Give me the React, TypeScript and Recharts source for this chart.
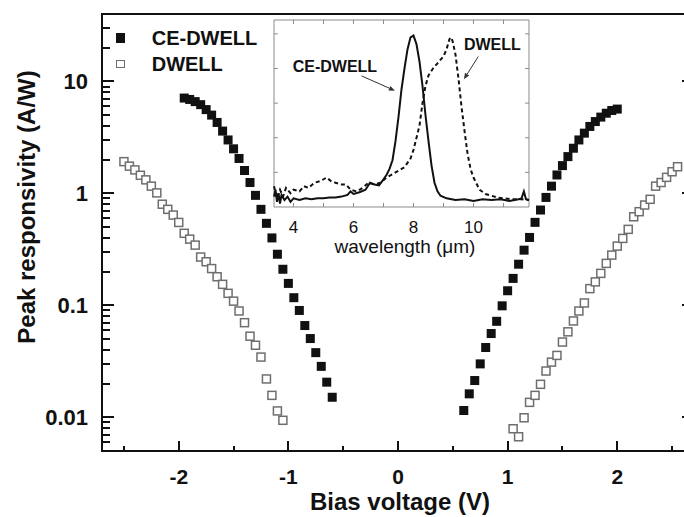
import React from 'react';
import { ComposedChart, Scatter, Line, XAxis, YAxis, ReferenceLine, ReferenceDot } from 'recharts';

const FONT = '"Liberation Sans", Arial, sans-serif';
const INK = '#111';
const OPEN = '#6e6e6e';
const FRAME = '#8a8a8a';

// main plot: [bias (V), peak responsivity (A/W)]
const ceDwellNeg = [
  [-1.95, 7.1], [-1.9, 6.9], [-1.85, 6.6], [-1.8, 6.2], [-1.75, 5.6], [-1.7, 5.0],
  [-1.65, 4.3], [-1.6, 3.6], [-1.55, 3.0], [-1.5, 2.5], [-1.45, 2.05], [-1.4, 1.6],
  [-1.35, 1.25], [-1.3, 0.96], [-1.25, 0.72], [-1.2, 0.54], [-1.15, 0.4], [-1.1, 0.286],
  [-1.05, 0.21], [-1.0, 0.157], [-0.95, 0.117], [-0.9, 0.09], [-0.85, 0.066], [-0.8, 0.0505],
  [-0.75, 0.0378], [-0.7, 0.0285], [-0.65, 0.0206], [-0.6, 0.0151],
];
const ceDwellPos = [
  [0.6, 0.0115], [0.65, 0.0162], [0.7, 0.0213], [0.75, 0.03], [0.8, 0.042], [0.85, 0.056],
  [0.9, 0.072], [0.95, 0.099], [1.0, 0.135], [1.05, 0.174], [1.1, 0.233], [1.15, 0.311],
  [1.2, 0.404], [1.25, 0.551], [1.3, 0.71], [1.35, 0.92], [1.4, 1.16], [1.45, 1.46],
  [1.5, 1.77], [1.55, 2.13], [1.6, 2.53], [1.65, 3.0], [1.7, 3.45], [1.75, 3.96],
  [1.8, 4.38], [1.85, 4.8], [1.9, 5.2], [1.95, 5.5], [2.0, 5.66],
];
const dwellNeg = [
  [-2.5, 1.92], [-2.45, 1.75], [-2.4, 1.62], [-2.35, 1.45], [-2.3, 1.32], [-2.25, 1.16],
  [-2.2, 1.01], [-2.15, 0.8], [-2.1, 0.72], [-2.05, 0.64], [-2.0, 0.55], [-1.95, 0.44],
  [-1.9, 0.39], [-1.85, 0.345], [-1.8, 0.27], [-1.75, 0.245], [-1.7, 0.213], [-1.65, 0.18],
  [-1.6, 0.154], [-1.55, 0.128], [-1.5, 0.109], [-1.45, 0.089], [-1.4, 0.07], [-1.35, 0.053],
  [-1.3, 0.044], [-1.25, 0.0345], [-1.2, 0.022], [-1.15, 0.0157], [-1.1, 0.0114], [-1.05, 0.0094],
];
const dwellPos = [
  [1.05, 0.0079], [1.1, 0.0067], [1.15, 0.0099], [1.2, 0.0136], [1.25, 0.0157], [1.3, 0.0197],
  [1.35, 0.0259], [1.4, 0.0311], [1.45, 0.0357], [1.5, 0.047], [1.55, 0.058], [1.6, 0.0725],
  [1.65, 0.089], [1.7, 0.105], [1.75, 0.141], [1.8, 0.162], [1.85, 0.193], [1.9, 0.237],
  [1.95, 0.281], [2.0, 0.338], [2.05, 0.396], [2.1, 0.477], [2.15, 0.618], [2.2, 0.686],
  [2.25, 0.787], [2.3, 0.885], [2.35, 1.16], [2.4, 1.25], [2.45, 1.39], [2.5, 1.56], [2.55, 1.73],
];

const biasDomain = [-2.7, 2.7];
const respDomain = [0.005, 40];
const biasTicks = [-2.5, -2, -1.5, -1, -0.5, 0, 0.5, 1, 1.5, 2, 2.5];
const respMajor = [0.01, 0.1, 1, 10];
const respMinor = [
  0.006, 0.007, 0.008, 0.009,
  0.02, 0.03, 0.04, 0.05, 0.06, 0.07, 0.08, 0.09,
  0.2, 0.3, 0.4, 0.5, 0.6, 0.7, 0.8, 0.9,
  2, 3, 4, 5, 6, 7, 8, 9, 20, 30,
];

// inset: [wavelength (um), normalized response]
const ceSpectrum = [
  [3.35, 0.06], [3.4, 0.1], [3.45, 0.03], [3.5, 0.08], [3.55, 0.02], [3.6, 0.07], [3.7, 0.04],
  [3.8, 0.06], [3.9, 0.03], [4.0, 0.05], [4.2, 0.04], [4.4, 0.05], [4.6, 0.045], [4.8, 0.05],
  [5.0, 0.05], [5.2, 0.055], [5.4, 0.055], [5.6, 0.06], [5.8, 0.07], [5.9, 0.09], [6.0, 0.075],
  [6.2, 0.085], [6.4, 0.1], [6.55, 0.14], [6.7, 0.13], [6.85, 0.125], [7.0, 0.16], [7.1, 0.185],
  [7.2, 0.22], [7.3, 0.27], [7.4, 0.38], [7.5, 0.52], [7.6, 0.68], [7.7, 0.8], [7.8, 0.91],
  [7.9, 0.98], [8.0, 0.99], [8.1, 0.94], [8.2, 0.84], [8.3, 0.7], [8.4, 0.53], [8.5, 0.38],
  [8.6, 0.24], [8.7, 0.14], [8.8, 0.09], [8.9, 0.065], [9.1, 0.05], [9.4, 0.04], [9.7, 0.045],
  [10.0, 0.035], [10.3, 0.045], [10.6, 0.04], [10.9, 0.045], [11.2, 0.035], [11.5, 0.045],
  [11.6, 0.05], [11.68, 0.09], [11.75, 0.045], [11.85, 0.04],
];
const dwellSpectrum = [
  [3.35, 0.12], [3.45, 0.05], [3.55, 0.1], [3.65, 0.06], [3.75, 0.11], [3.9, 0.08], [4.0, 0.1],
  [4.2, 0.09], [4.35, 0.12], [4.5, 0.11], [4.7, 0.14], [4.9, 0.15], [5.1, 0.17], [5.25, 0.15],
  [5.4, 0.14], [5.6, 0.13], [5.75, 0.13], [5.9, 0.1], [6.1, 0.09], [6.3, 0.11], [6.5, 0.14],
  [6.7, 0.13], [6.9, 0.14], [7.1, 0.17], [7.3, 0.19], [7.5, 0.21], [7.7, 0.23], [7.9, 0.28],
  [8.0, 0.33], [8.1, 0.4], [8.2, 0.47], [8.3, 0.6], [8.4, 0.7], [8.5, 0.76], [8.65, 0.8],
  [8.8, 0.83], [9.0, 0.87], [9.1, 0.91], [9.2, 0.97], [9.25, 0.98], [9.3, 0.96], [9.4, 0.88],
  [9.5, 0.74], [9.6, 0.58], [9.7, 0.44], [9.8, 0.31], [9.9, 0.22], [10.0, 0.17], [10.2, 0.1],
  [10.4, 0.075], [10.6, 0.065], [10.8, 0.055], [11.0, 0.05], [11.3, 0.045], [11.6, 0.045],
  [11.85, 0.04],
];
const waveFrame = [3.35, 11.85];
const specFrame = [0, 1.08];
const waveTicks = [4, 5, 6, 7, 8, 9, 10, 11];
const waveLabels = [4, 6, 8, 10];
const specTicks = [0.2, 0.4, 0.6, 0.8, 1.0];

// plot box of the main chart (chart is 700 wide, the window crops the right axis)
const PLOT = { left: 102, right: 694, top: 14, bottom: 451 };

// the inset shares the main plot box; its hidden axes are stretched so the
// frame lands in the upper middle of the plot (30 px per um, 173 px per unit)
const waveAxisDomain = [-2.3833, 17.35];
const specAxisDomain = [-1.4092, 1.11465];
const waveTickLen = 0.13;
const specTickLen = 0.023;

const toBias = (arr: number[][]) => arr.map(([v, r]) => ({ v, r }));
const toSpec = (arr: number[][]) => arr.map(([w, s]) => ({ w, s }));

// same mapping as the chart's bias / log-responsivity axes, used for the frame overlay
const biasPx = (t: number) =>
  PLOT.left + ((t - biasDomain[0]) / (biasDomain[1] - biasDomain[0])) * (PLOT.right - PLOT.left);
const respPx = (r: number) =>
  PLOT.top +
  ((Math.log10(respDomain[1]) - Math.log10(r)) /
    (Math.log10(respDomain[1]) - Math.log10(respDomain[0]))) *
    (PLOT.bottom - PLOT.top);

const FilledSquare = (props: any) => {
  const { cx, cy } = props;
  return <rect x={cx - 4.5} y={cy - 4.5} width={9} height={9} fill={INK} />;
};
const OpenSquare = (props: any) => {
  const { cx, cy } = props;
  return (
    <rect x={cx - 4} y={cy - 4} width={8} height={8} fill="#fff" stroke={OPEN} strokeWidth={1.5} />
  );
};

const BiasLabel = (props: any) => {
  const { x, y, payload } = props;
  if (!Number.isInteger(payload.value)) return <g />;
  return (
    <text x={x} y={y + 23} textAnchor="middle" fontFamily={FONT} fontWeight="bold" fontSize={21} fill={INK}>
      {payload.value}
    </text>
  );
};

const RespLabel = (props: any) => {
  const { x, y, payload } = props;
  return (
    <text x={x} y={y + 8} textAnchor="end" fontFamily={FONT} fontWeight="bold" fontSize={22} fill={INK}>
      {payload.value}
    </text>
  );
};

const Arrow = (props: any) => {
  const { x1, y1, x2, y2 } = props;
  const ang = Math.atan2(y2 - y1, x2 - x1);
  const len = 6;
  const w = 2.5;
  const bx = x2 - len * Math.cos(ang);
  const by = y2 - len * Math.sin(ang);
  const px = -Math.sin(ang) * w;
  const py = Math.cos(ang) * w;
  return (
    <g>
      <line x1={x1} y1={y1} x2={bx} y2={by} stroke="#333" strokeWidth={1} />
      <polygon points={`${x2},${y2} ${bx + px},${by + py} ${bx - px},${by - py}`} fill="#333" />
    </g>
  );
};

const noteLabel = (value: string) => ({
  value,
  position: 'center' as const,
  fill: INK,
  fontSize: 16,
  fontWeight: 'bold',
  fontFamily: FONT,
});

const inset = { xAxisId: 'wave', yAxisId: 'spec' };
const frameLine = { stroke: FRAME, strokeWidth: 1 };

const bar = (left: number, top: number, width: number, height: number, key?: string) => (
  <div key={key} style={{ position: 'absolute', left, top, width, height, background: INK }} />
);

export default function App() {
  return (
    <div
      style={{
        position: 'fixed',
        left: 0,
        top: 0,
        width: 684,
        height: 517,
        overflow: 'hidden',
        background: '#fff',
        fontFamily: FONT,
        color: INK,
      }}
    >
      <ComposedChart
        width={700}
        height={517}
        margin={{ top: PLOT.top, right: 700 - PLOT.right, bottom: 0, left: 0 }}
      >
        <XAxis
          type="number"
          dataKey="v"
          domain={biasDomain}
          ticks={biasTicks}
          interval={0}
          height={517 - PLOT.bottom}
          tickSize={0}
          tickMargin={10}
          tickLine={false}
          stroke={INK}
          strokeWidth={2}
          tick={BiasLabel}
          allowDataOverflow
        />
        <YAxis
          type="number"
          dataKey="r"
          scale="log"
          domain={respDomain}
          ticks={respMajor}
          interval={0}
          width={PLOT.left}
          tickSize={0}
          tickMargin={14}
          tickLine={false}
          stroke={INK}
          strokeWidth={2}
          tick={RespLabel}
          allowDataOverflow
        />
        <XAxis xAxisId="wave" type="number" dataKey="w" domain={waveAxisDomain} hide allowDataOverflow />
        <YAxis yAxisId="spec" type="number" dataKey="s" domain={specAxisDomain} hide allowDataOverflow />

        <ReferenceLine y={respDomain[1]} stroke={INK} strokeWidth={2} ifOverflow="visible" />

        {/* inset frame and ticks */}
        <ReferenceLine {...inset} {...frameLine} segment={[{ x: waveFrame[0], y: specFrame[0] }, { x: waveFrame[1], y: specFrame[0] }]} />
        <ReferenceLine {...inset} {...frameLine} segment={[{ x: waveFrame[0], y: specFrame[1] }, { x: waveFrame[1], y: specFrame[1] }]} />
        <ReferenceLine {...inset} {...frameLine} segment={[{ x: waveFrame[0], y: specFrame[0] }, { x: waveFrame[0], y: specFrame[1] }]} />
        <ReferenceLine {...inset} {...frameLine} segment={[{ x: waveFrame[1], y: specFrame[0] }, { x: waveFrame[1], y: specFrame[1] }]} />
        {waveTicks.map((t) => (
          <ReferenceLine key={`wb${t}`} {...inset} {...frameLine} segment={[{ x: t, y: specFrame[0] }, { x: t, y: specFrame[0] + specTickLen }]} />
        ))}
        {waveTicks.map((t) => (
          <ReferenceLine key={`wt${t}`} {...inset} {...frameLine} segment={[{ x: t, y: specFrame[1] }, { x: t, y: specFrame[1] - specTickLen }]} />
        ))}
        {specTicks.map((t) => (
          <ReferenceLine key={`sl${t}`} {...inset} {...frameLine} segment={[{ x: waveFrame[0], y: t }, { x: waveFrame[0] + waveTickLen, y: t }]} />
        ))}
        {specTicks.map((t) => (
          <ReferenceLine key={`sr${t}`} {...inset} {...frameLine} segment={[{ x: waveFrame[1], y: t }, { x: waveFrame[1] - waveTickLen, y: t }]} />
        ))}
        {waveLabels.map((t) => (
          <ReferenceDot
            key={`wl${t}`}
            {...inset}
            x={t}
            y={specFrame[0]}
            r={0}
            fill="none"
            stroke="none"
            label={{ value: String(t), position: 'bottom', offset: 14, fill: INK, fontSize: 17, fontFamily: FONT }}
          />
        ))}

        <Line
          {...inset}
          data={toSpec(dwellSpectrum)}
          dataKey="s"
          type="linear"
          stroke={INK}
          strokeWidth={2}
          strokeDasharray="4 3"
          dot={false}
          activeDot={false}
          isAnimationActive={false}
        />
        <Line
          {...inset}
          data={toSpec(ceSpectrum)}
          dataKey="s"
          type="linear"
          stroke={INK}
          strokeWidth={2}
          dot={false}
          activeDot={false}
          isAnimationActive={false}
        />
        <ReferenceLine {...inset} segment={[{ x: 6.27, y: 0.757 }, { x: 7.38, y: 0.672 }]} shape={Arrow} />
        <ReferenceLine {...inset} segment={[{ x: 10.16, y: 0.869 }, { x: 9.68, y: 0.738 }]} shape={Arrow} />
        <ReferenceDot {...inset} x={5.38} y={0.815} r={0} fill="none" stroke="none" label={noteLabel('CE-DWELL')} />
        <ReferenceDot {...inset} x={10.63} y={0.938} r={0} fill="none" stroke="none" label={noteLabel('DWELL')} />

        <Scatter name="DWELL" data={toBias(dwellNeg)} shape={OpenSquare} isAnimationActive={false} />
        <Scatter name="DWELL+" data={toBias(dwellPos)} shape={OpenSquare} isAnimationActive={false} />
        <Scatter name="CE-DWELL" data={toBias(ceDwellNeg)} shape={FilledSquare} isAnimationActive={false} />
        <Scatter name="CE-DWELL+" data={toBias(ceDwellPos)} shape={FilledSquare} isAnimationActive={false} />
      </ComposedChart>

      {/* main frame and inward ticks */}
      {bar(PLOT.left - 1, PLOT.top - 1, 2, PLOT.bottom - PLOT.top + 2)}
      {bar(PLOT.left - 1, PLOT.top - 1, PLOT.right - PLOT.left + 2, 2)}
      {bar(PLOT.left - 1, PLOT.bottom - 1, PLOT.right - PLOT.left + 2, 2)}
      {biasTicks.map((t) => {
        const len = Number.isInteger(t) ? 10 : 5.5;
        return bar(biasPx(t) - 1, PLOT.bottom - len, 2, len, `bt${t}`);
      })}
      {respMajor.map((r) => bar(PLOT.left, respPx(r) - 1, 12, 2, `lt${r}`))}
      {respMinor.map((r) => bar(PLOT.left, respPx(r) - 1, 7.5, 2, `lm${r}`))}
      {respMajor.map((r) => bar(PLOT.right - 12, respPx(r) - 1, 12, 2, `rt${r}`))}

      {/* legend */}
      <div style={{ position: 'absolute', left: 116, top: 33, width: 9, height: 10, background: INK }} />
      <div style={{ position: 'absolute', left: 151.7, top: 28.2, fontSize: 20, lineHeight: '20px', fontWeight: 'bold', whiteSpace: 'nowrap' }}>
        CE-DWELL
      </div>
      <div
        style={{
          position: 'absolute',
          left: 116,
          top: 59.5,
          width: 6.5,
          height: 6.5,
          border: `1.5px solid ${OPEN}`,
          background: '#fff',
        }}
      />
      <div style={{ position: 'absolute', left: 151.7, top: 54.2, fontSize: 20, lineHeight: '20px', fontWeight: 'bold', whiteSpace: 'nowrap' }}>
        DWELL
      </div>

      {/* axis titles */}
      <div
        style={{
          position: 'absolute',
          left: 27,
          top: 207,
          transform: 'translate(-50%, -50%) rotate(-90deg)',
          fontSize: 24,
          lineHeight: '24px',
          fontWeight: 'bold',
          whiteSpace: 'nowrap',
        }}
      >
        Peak responsivity (A/W)
      </div>
      <div
        style={{
          position: 'absolute',
          left: 400,
          top: 490,
          transform: 'translateX(-50%)',
          fontSize: 24,
          lineHeight: '24px',
          fontWeight: 'bold',
          whiteSpace: 'nowrap',
        }}
      >
        Bias voltage (V)
      </div>
      <div
        style={{
          position: 'absolute',
          left: 405,
          top: 237,
          transform: 'translateX(-50%)',
          fontSize: 19,
          lineHeight: '19px',
          whiteSpace: 'nowrap',
        }}
      >
        wavelength (μm)
      </div>
    </div>
  );
}
